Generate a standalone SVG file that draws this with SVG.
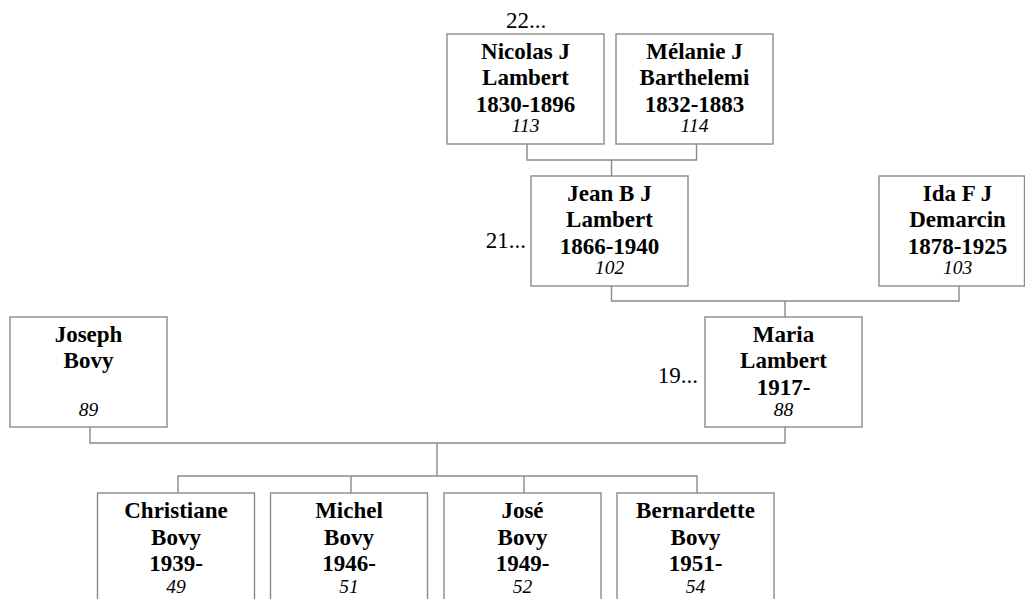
<svg xmlns="http://www.w3.org/2000/svg" width="1025" height="599" viewBox="0 0 1025 599">
<style>
.box{fill:#fff;stroke:#8a8a8a;stroke-width:1.4}
.con{fill:none;stroke:#8a8a8a;stroke-width:1.4}
text{font-family:"Liberation Serif","Times New Roman",serif;fill:#000;text-anchor:middle}
.n{font-size:23px;font-weight:bold}
.i{font-size:19.5px;font-style:italic}
.g{font-size:23px}
</style>
<rect width="1025" height="599" fill="#fff"/>
<g id="connectors">
<path class="con" d="M527 144V160H696.5V144M611.5 160V176"/>
<path class="con" d="M611.5 286V301H959V286M785 301V317"/>
<path class="con" d="M90 427V443H785V427M437 443V476"/>
<path class="con" d="M178 493V476H697V493M351 476V493M524 476V493"/>
</g>
<text class="g" x="526" y="28">22...</text>
<text class="g" x="526" y="247.5" style="text-anchor:end">21...</text>
<text class="g" x="698" y="383" style="text-anchor:end">19...</text>
<g id="n113">
<rect class="box" x="447" y="34" width="157" height="110"/>
<text class="n" x="525.5" y="58.5">Nicolas J</text>
<text class="n" x="525.5" y="85">Lambert</text>
<text class="n" x="525.5" y="111.5">1830-1896</text>
<text class="i" x="525.5" y="132">113</text>
</g>
<g id="n114">
<rect class="box" x="616" y="34" width="157" height="110"/>
<text class="n" x="694.5" y="58.5">Mélanie J</text>
<text class="n" x="694.5" y="85">Barthelemi</text>
<text class="n" x="694.5" y="111.5">1832-1883</text>
<text class="i" x="694.5" y="132">114</text>
</g>
<g id="n102">
<rect class="box" x="531" y="176" width="157" height="110"/>
<text class="n" x="609.5" y="200.5">Jean B J</text>
<text class="n" x="609.5" y="227">Lambert</text>
<text class="n" x="609.5" y="253.5">1866-1940</text>
<text class="i" x="609.5" y="274">102</text>
</g>
<g id="n103">
<rect class="box" x="879" y="176" width="145.5" height="110"/>
<text class="n" x="957.5" y="200.5">Ida F J</text>
<text class="n" x="957.5" y="227">Demarcin</text>
<text class="n" x="957.5" y="253.5">1878-1925</text>
<text class="i" x="957.5" y="274">103</text>
</g>
<g id="n89">
<rect class="box" x="10" y="317" width="157" height="110"/>
<text class="n" x="88.5" y="341.5">Joseph</text>
<text class="n" x="88.5" y="368">Bovy</text>
<text class="i" x="88.5" y="416">89</text>
</g>
<g id="n88">
<rect class="box" x="705" y="317" width="157" height="110"/>
<text class="n" x="783.5" y="341.5">Maria</text>
<text class="n" x="783.5" y="368">Lambert</text>
<text class="n" x="783.5" y="394.5">1917-</text>
<text class="i" x="783.5" y="416">88</text>
</g>
<g id="n49">
<rect class="box" x="97.5" y="493" width="157" height="110"/>
<text class="n" x="176" y="518">Christiane</text>
<text class="n" x="176" y="544.5">Bovy</text>
<text class="n" x="176" y="571">1939-</text>
<text class="i" x="176" y="593">49</text>
</g>
<g id="n51">
<rect class="box" x="270.5" y="493" width="157" height="110"/>
<text class="n" x="349" y="518">Michel</text>
<text class="n" x="349" y="544.5">Bovy</text>
<text class="n" x="349" y="571">1946-</text>
<text class="i" x="349" y="593">51</text>
</g>
<g id="n52">
<rect class="box" x="444" y="493" width="157" height="110"/>
<text class="n" x="522.5" y="518">José</text>
<text class="n" x="522.5" y="544.5">Bovy</text>
<text class="n" x="522.5" y="571">1949-</text>
<text class="i" x="522.5" y="593">52</text>
</g>
<g id="n54">
<rect class="box" x="617" y="493" width="157" height="110"/>
<text class="n" x="695.5" y="518">Bernardette</text>
<text class="n" x="695.5" y="544.5">Bovy</text>
<text class="n" x="695.5" y="571">1951-</text>
<text class="i" x="695.5" y="593">54</text>
</g>
</svg>
